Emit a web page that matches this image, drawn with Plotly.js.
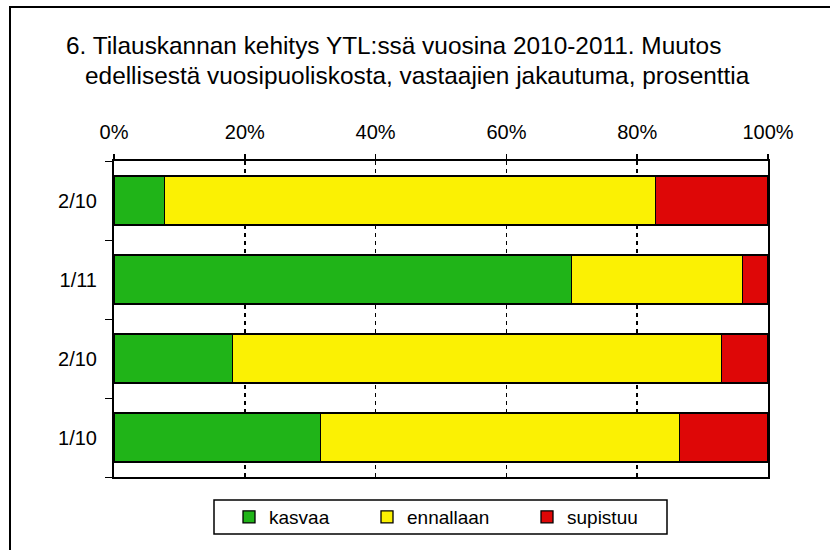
<!DOCTYPE html>
<html>
<head>
<meta charset="utf-8">
<script src="https://cdn.plot.ly/plotly-3.0.1.min.js"></script>
<style>
  html, body { margin: 0; padding: 0; background: #fff; overflow: hidden; }
  #chart { position: absolute; left: 0; top: 0; width: 830px; height: 550px; }
  #frame { position: absolute; left: 9px; top: 6px; width: 900px; height: 600px;
           border: 2px solid #000; pointer-events: none; }
</style>
</head>
<body>
<div id="chart"></div>
<div id="frame"></div>
<script>
// ---- data ----
const categories = ["2/10", "1/11", "2/10", "1/10"];   // top to bottom
const positions = [0, 1, 2, 3];
const kasvaa    = [7.7, 69.9, 18.1, 31.6];
const ennallaan = [75.1, 26.2, 74.8, 54.9];
const supistuu  = [17.2, 3.9, 7.1, 13.5];
const seriesNames = ["kasvaa", "ennallaan", "supistuu"];
const xTicks = [0, 20, 40, 60, 80, 100];

const colors = ["#20B418", "#FBF103", "#DE0707"];
const FONT = "Liberation Sans, Arial, Helvetica, sans-serif";

// plot area in pixels (for converting layout positions)
const PL = 114, PR = 768, PT = 161, PB = 477;
const px = x => (x - PL) / (PR - PL);
const py = y => (PB - y) / (PB - PT);

const legendIds = ["legend", "legend2", "legend3"];
const legendLeft = [229, 367, 527];

const values = [kasvaa, ennallaan, supistuu];
const traces = values.map((v, i) => ({
  type: "bar",
  orientation: "h",
  name: seriesNames[i],
  legend: legendIds[i],
  x: v,
  y: positions,
  marker: { color: colors[i], line: { color: "#000", width: 1.3 } },
  hoverinfo: "x+name"
}));

const boundaries = positions.map(p => p - 0.5).concat([positions[positions.length - 1] + 0.5]);

const legendBase = {
  orientation: "h",
  xanchor: "left",
  y: py(517), yanchor: "middle",
  borderwidth: 0,
  bgcolor: "rgba(0,0,0,0)",
  font: { family: FONT, size: 19, color: "#000" }
};

const layout = {
  width: 830, height: 550,
  margin: { l: PL, r: 830 - PR, t: PT, b: 550 - PB },
  paper_bgcolor: "#fff",
  plot_bgcolor: "#fff",
  barmode: "stack",
  bargap: 0.38,
  font: { family: FONT, size: 20, color: "#000" },
  showlegend: true,
  xaxis: {
    side: "top",
    range: [0, 100],
    tickmode: "array",
    tickvals: xTicks,
    ticktext: xTicks.map(t => t + "%"),
    ticks: "outside", ticklen: 5, tickwidth: 1.5, tickcolor: "#000",
    ticklabelstandoff: 7,
    showline: true, linecolor: "#000", linewidth: 2, mirror: true,
    showgrid: true, gridcolor: "#000", gridwidth: 1.5, griddash: "4px,4px",
    zeroline: false,
    tickfont: { family: FONT, size: 20, color: "#000" },
    fixedrange: true
  },
  yaxis: {
    range: [3.5, -0.5],
    tickmode: "array",
    tickvals: positions,
    ticktext: categories,
    ticks: "outside", ticklen: 11, tickcolor: "rgba(0,0,0,0)",
    minor: { tickmode: "array", tickvals: boundaries, ticks: "outside",
             ticklen: 7, tickwidth: 1, tickcolor: "#000", showgrid: false },
    showline: true, linecolor: "#000", linewidth: 2, mirror: true,
    showgrid: false, zeroline: false,
    tickfont: { family: FONT, size: 20, color: "#000" },
    fixedrange: true
  },
  legend:  Object.assign({}, legendBase, { x: px(legendLeft[0]) }),
  legend2: Object.assign({}, legendBase, { x: px(legendLeft[1]) }),
  legend3: Object.assign({}, legendBase, { x: px(legendLeft[2]) }),
  shapes: [
    { type: "rect", xref: "paper", yref: "paper",
      x0: px(214), x1: px(667), y0: py(534), y1: py(500),
      line: { color: "#000", width: 1.5 }, fillcolor: "rgba(0,0,0,0)", layer: "below" }
  ],
  annotations: [
    { xref: "paper", yref: "paper", x: px(64), y: py(45),
      xanchor: "left", yanchor: "middle", showarrow: false,
      text: "6. Tilauskannan kehitys YTL:ssä vuosina 2010-2011. Muutos",
      font: { family: FONT, size: 24.4, color: "#000" } },
    { xref: "paper", yref: "paper", x: px(83), y: py(75),
      xanchor: "left", yanchor: "middle", showarrow: false,
      text: "edellisestä vuosipuoliskosta, vastaajien jakautuma, prosenttia",
      font: { family: FONT, size: 24.4, color: "#000" } }
  ]
};

Plotly.newPlot("chart", traces, layout, { displayModeBar: false, staticPlot: true });
</script>
</body>
</html>
